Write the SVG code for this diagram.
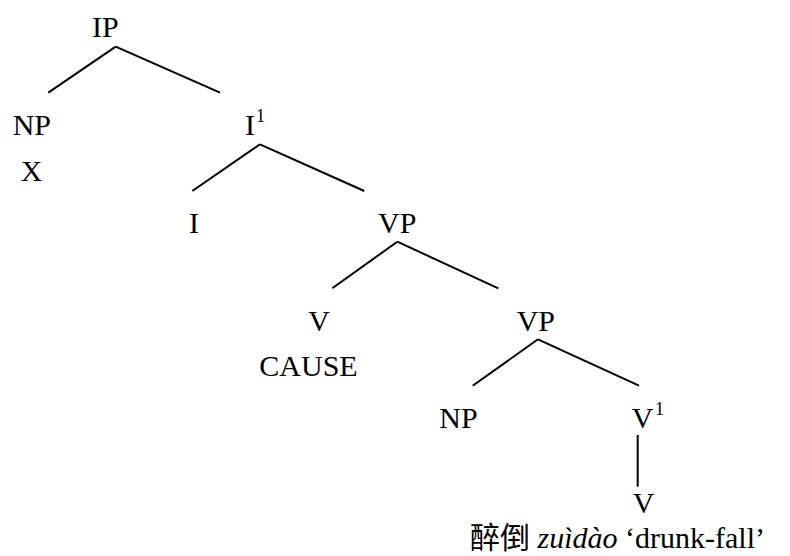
<svg xmlns="http://www.w3.org/2000/svg" width="790" height="556" viewBox="0 0 790 556">
<style>
text{font-family:"Liberation Serif","Noto Sans CJK SC",serif;font-size:30px;fill:#000}
.sup{font-size:18px}
line{stroke:#000;stroke-width:2;stroke-linecap:butt}
</style>
<rect width="790" height="556" fill="#fff"/>
<g id="connectors">
<line x1="115.7" y1="46.7" x2="48.3" y2="92.7"/>
<line x1="115.7" y1="46.7" x2="220" y2="92.7"/>
<line x1="260" y1="144.3" x2="192.3" y2="191"/>
<line x1="260" y1="144.3" x2="364.3" y2="191"/>
<line x1="397.3" y1="241.7" x2="332.3" y2="288.3"/>
<line x1="397.3" y1="241.7" x2="498.3" y2="288.3"/>
<line x1="538" y1="339.3" x2="472.7" y2="385.7"/>
<line x1="538" y1="339.3" x2="639" y2="385.7"/>
<line x1="637.7" y1="435" x2="637.7" y2="486.7"/>
</g>
<g id="n-ip"><text x="92" y="37">IP</text></g>
<g id="n-np1"><text x="12.7" y="135">NP</text><text x="20.7" y="181">X</text></g>
<g id="n-ibar"><text x="245" y="135">I</text><text class="sup" x="256" y="122">1</text></g>
<g id="n-i"><text x="189" y="233">I</text></g>
<g id="n-vp1"><text x="378" y="233">VP</text></g>
<g id="n-v"><text x="308.3" y="331">V</text><text x="259.3" y="375.7">CAUSE</text></g>
<g id="n-vp2"><text x="516.7" y="331">VP</text></g>
<g id="n-np2"><text x="439.3" y="428.3">NP</text></g>
<g id="n-vbar"><text x="631.7" y="428.3">V</text><text class="sup" x="655" y="415">1</text></g>
<g id="n-v2"><text x="632.7" y="513.3">V</text><text x="470" y="548">醉倒 <tspan font-style="italic">zuìdào</tspan> ‘drunk-fall’</text></g>
</svg>
